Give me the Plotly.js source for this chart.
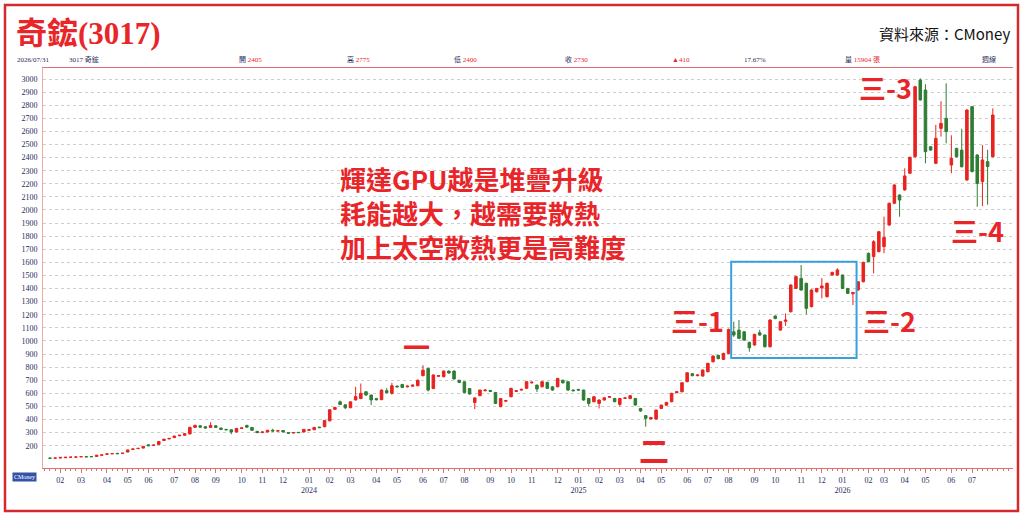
<!DOCTYPE html>
<html><head><meta charset="utf-8">
<script src="https://cdn.plot.ly/plotly-3.0.1.min.js"></script>
<style>html,body{margin:0;padding:0;background:#fff}#chart{width:1024px;height:520px}</style>
</head><body><div id="chart"></div>
<script>
// weekly candles (week ending Friday); weeks with no trading (Lunar New Year) are skipped
const firstWeek = '2023-01-13';
const closedWeeks = ['2023-01-27', '2025-01-31', '2026-02-20'];

const openP = [
106,105,106,108,112,113,115,117,118,118,
127,135,138,142,142,152,172,178,182,207,
203,210,240,252,262,276,280,290,340,352,
345,340,352,335,325,322,305,332,355,340,
310,300,305,318,312,316,300,298,302,305,
318,322,342,345,390,478,535,512,490,550,
560,612,587,560,552,620,600,655,668,650,
655,658,735,790,637,730,727,770,770,700,
688,637,530,582,620,622,607,498,540,574,
615,625,638,680,663,650,684,650,650,
700,689,625,630,625,561,536,523,549,570,
561,516,562,560,561,485,430,405,404,485,
510,536,605,612,689,750,735,732,765,
841,890,859,905,1070,1083,1070,989,969,
1063,1045,956,1190,1083,1150,1223,1401,1478,1440,
1262,1376,1405,1338,1503,1503,1503,1401,1360,1389,
1452,1669,1644,1682,1720,1885,2051,2114,2153,2280,
2407,2992,2916,2483,2356,2623,2700,2343,2470,2457,
2229,2789,2420,2216,2369,2407];

const closeP = [
104,106,111,112,113,114,117,115,116,128,
130,138,140,139,143,168,175,180,195,200,
205,232,250,256,274,280,292,340,355,342,
335,355,340,325,322,305,332,336,342,318,
300,305,318,312,314,305,296,300,300,325,
322,340,338,392,475,492,515,490,535,575,
600,587,550,552,625,605,658,650,645,655,
662,700,777,625,740,735,770,755,710,683,
607,595,565,625,625,615,523,560,545,638,
620,630,689,685,633,689,638,625,714,
680,625,620,625,549,523,574,549,566,575,
536,561,565,582,511,465,409,415,472,510,
531,600,612,681,757,735,740,778,829,
885,865,905,1088,1045,1020,1007,948,1050,
1045,956,1160,1172,1147,1160,1427,1491,1389,1249,
1389,1401,1420,1440,1524,1542,1401,1363,1370,1452,
1600,1605,1758,1834,1790,2051,2191,2076,2260,2402,
2941,2840,2445,2458,2547,2661,2598,2394,2407,2330,
2763,2293,2203,2382,2331,2725];

const highP = [
107,107,112,113,115,116,118,118,119,129,
132,140,142,144,145,170,178,183,197,210,
208,234,253,258,276,283,294,345,362,358,
350,380,356,338,328,325,335,340,360,343,
312,308,320,330,317,318,302,303,304,327,
326,342,345,396,478,498,545,515,538,650,
675,616,590,565,630,640,680,660,672,660,
668,705,815,795,745,740,775,775,775,703,
690,640,570,628,630,626,610,565,550,642,
625,635,692,690,666,692,688,654,718,
704,692,630,634,628,565,578,553,570,579,
565,565,569,586,564,488,434,420,476,514,
535,604,616,685,760,754,745,782,833,
890,895,910,1095,1147,1160,1075,995,1055,
1085,1050,1165,1195,1150,1210,1432,1500,1580,1445,
1394,1405,1480,1445,1528,1555,1508,1405,1375,1456,
1605,1675,1770,1840,1949,2057,2196,2120,2318,2408,
2948,3005,2960,2488,2650,2830,2967,2570,2475,2620,
2770,2795,2425,2495,2460,2776];

const lowP = [
103,104,105,107,111,112,114,114,115,117,
126,134,137,137,140,150,170,176,180,198,
200,208,238,249,260,273,278,288,336,338,
330,336,336,320,318,288,302,328,338,315,
296,298,302,309,309,302,293,295,297,303,
315,320,335,342,386,474,510,480,487,545,
556,582,510,545,548,600,590,645,640,645,
650,655,730,615,632,725,722,750,705,678,
600,590,480,578,615,610,518,494,535,570,
610,620,634,676,610,646,634,620,646,
676,620,616,620,544,500,532,485,545,566,
532,500,558,556,506,460,345,400,400,481,
506,532,600,608,685,730,730,728,760,
836,860,855,900,1030,1015,1000,918,964,
1040,950,950,1165,1078,1115,1218,1396,1384,1203,
1256,1370,1325,1332,1498,1498,1396,1358,1274,1384,
1447,1600,1516,1676,1669,1880,2045,1949,2148,2275,
2400,2835,2356,2452,2350,2560,2509,2280,2400,2325,
2222,2287,2025,2030,2040,2400];

const yTicks = [200,300,400,500,600,700,800,900,1000,1100,1200,1300,1400,1500,
  1600,1700,1800,1900,2000,2100,2200,2300,2400,2500,2600,2700,2800,2900,3000];

const chartTitle = '奇鋐(3017)';
const sourceText = '資料來源：CMoney';
const noteLines = ['輝達GPU越是堆疊升級', '耗能越大，越需要散熱', '加上太空散熱更是高難度'];
const waveLabels = ['一', '二', '三-1', '三-2', '三-3', '三-4'];
const headerLabels = ['2026/07/31', '3017 奇鋐', '開', '高', '低', '收', '', '', '量', '週線'];
const headerValues = ['', '', '2405', '2775', '2400', '2730', '▲410', '17.67%', '15904 張', ''];

// trading-week dates for each candle
const dates = [];
{
  let t = Date.parse(firstWeek + 'T00:00:00Z');
  while (dates.length < openP.length) {
    const s = new Date(t).toISOString().slice(0, 10);
    if (!closedWeeks.includes(s)) dates.push(s);
    t += 7 * 86400000;
  }
}
const idx = dates.map((_, i) => i);

// month ticks: first candle of each new month
const tickVals = [], tickText = [];
for (let i = 1; i < dates.length; i++) {
  const m = dates[i].slice(5, 7), pm = dates[i - 1].slice(5, 7);
  if (m !== pm) {
    tickVals.push(i);
    tickText.push(m === '01' ? m + '<br>' + dates[i].slice(0, 4) : m);
  }
}

const L = 43, T = 68, W = 970, H = 400;
const px = x => (x - L) / W;
const py = y => (T + H - y) / H;

const RED = '#e8262a';
const UP = '#e8231f', DOWN = '#2f7d34';
const NAVY = '#1f2d5c';
const AXR = '#e07070';
const SERIF = 'Liberation Serif, DejaVu Serif, serif';
const CJK = 'Noto Sans CJK TC, Noto Sans, sans-serif';

const trace = {
  type: 'candlestick',
  x: idx, open: openP, high: highP, low: lowP, close: closeP,
  increasing: { line: { color: UP, width: 1 }, fillcolor: UP },
  decreasing: { line: { color: DOWN, width: 1 }, fillcolor: DOWN },
  whiskerwidth: 0,
  hoverinfo: 'skip'
};

const ann = [];
ann.push({ xref: 'paper', yref: 'paper', x: px(14), y: py(33), xanchor: 'left', yanchor: 'middle',
  text: '<b>' + chartTitle + '</b>', showarrow: false,
  font: { family: SERIF + ', ' + CJK, size: 31, color: RED } });
ann.push({ xref: 'paper', yref: 'paper', x: px(1012), y: py(33), xanchor: 'right', yanchor: 'middle',
  text: sourceText, showarrow: false, font: { family: CJK, size: 15, color: '#111' } });

const headerX = [15, 67, 237, 345, 452, 563, 670, 742, 843, 980];
headerLabels.forEach((lab, k) => {
  let t = lab;
  if (headerValues[k]) t += (lab ? ' ' : '') + '<span style="color:' + (k === 7 ? NAVY : RED) + '">' + headerValues[k] + '</span>';
  ann.push({ xref: 'paper', yref: 'paper', x: px(headerX[k]), y: py(60), xanchor: 'left', yanchor: 'middle',
    text: t, showarrow: false, font: { family: SERIF + ', ' + CJK, size: 7, color: NAVY } });
});

ann.push({ xref: 'paper', yref: 'paper', x: px(338), y: py(158), xanchor: 'left', yanchor: 'top', align: 'left',
  text: noteLines.join('<br>'), showarrow: false,
  font: { family: CJK, size: 26, color: RED, weight: 'bold' } });

const wavePos = [[416, 346], [654, 449], [697, 320], [889, 320], [885, 87], [977, 230]];
waveLabels.forEach((lab, k) => {
  ann.push({ xref: 'paper', yref: 'paper', x: px(wavePos[k][0]), y: py(wavePos[k][1]), xanchor: 'center', yanchor: 'middle',
    text: lab, showarrow: false,
    font: { family: CJK, size: k === 1 ? 30 : 27, color: RED, weight: 'bold' } });
});

ann.push({ xref: 'paper', yref: 'paper', x: px(12), y: py(477), xanchor: 'left', yanchor: 'middle',
  text: 'CMoney', showarrow: false, bgcolor: '#3352a8', borderpad: 1,
  font: { family: SERIF, size: 6, color: '#ffffff' } });

const shapes = [
  { type: 'rect', xref: 'x', yref: 'y', x0: 131.5, x1: 155.7, y0: 870, y1: 1605,
    line: { color: '#3aa0dc', width: 2 }, fillcolor: 'rgba(0,0,0,0)' },
  { type: 'rect', xref: 'paper', yref: 'paper', x0: px(5), x1: px(1018), y0: py(511), y1: py(5),
    line: { color: '#d42a2e', width: 2.5 }, fillcolor: 'rgba(0,0,0,0)' }
];

const layout = {
  width: 1024, height: 520,
  margin: { l: L, r: 1024 - L - W, t: T, b: 520 - T - H, pad: 0 },
  paper_bgcolor: '#ffffff', plot_bgcolor: '#ffffff',
  showlegend: false,
  xaxis: {
    type: 'linear', range: [-1.35, 185.9],
    rangeslider: { visible: false },
    tickmode: 'array', tickvals: tickVals, ticktext: tickText,
    ticks: 'outside', ticklen: 4, tickcolor: AXR, tickwidth: 1,
    showline: true, linecolor: AXR, linewidth: 1, mirror: true,
    showgrid: false, zeroline: false,
    minor: { tickmode: 'linear', tick0: 0, dtick: 1, ticks: 'outside', ticklen: 2, tickcolor: AXR, showgrid: false },
    tickfont: { family: SERIF, size: 8, color: NAVY }
  },
  yaxis: {
    range: [30, 3084], tickmode: 'array', tickvals: yTicks,
    ticks: '', showline: true, linecolor: '#f0a8a8', linewidth: 1,
    showgrid: true, gridcolor: '#cdcdcd', griddash: 'dot', gridwidth: 1,
    zeroline: false, ticklabelstandoff: 3,
    tickfont: { family: SERIF, size: 8, color: NAVY }
  },
  annotations: ann,
  shapes: shapes
};

Plotly.newPlot('chart', [trace], layout, { staticPlot: true, displayModeBar: false });
</script></body></html>
